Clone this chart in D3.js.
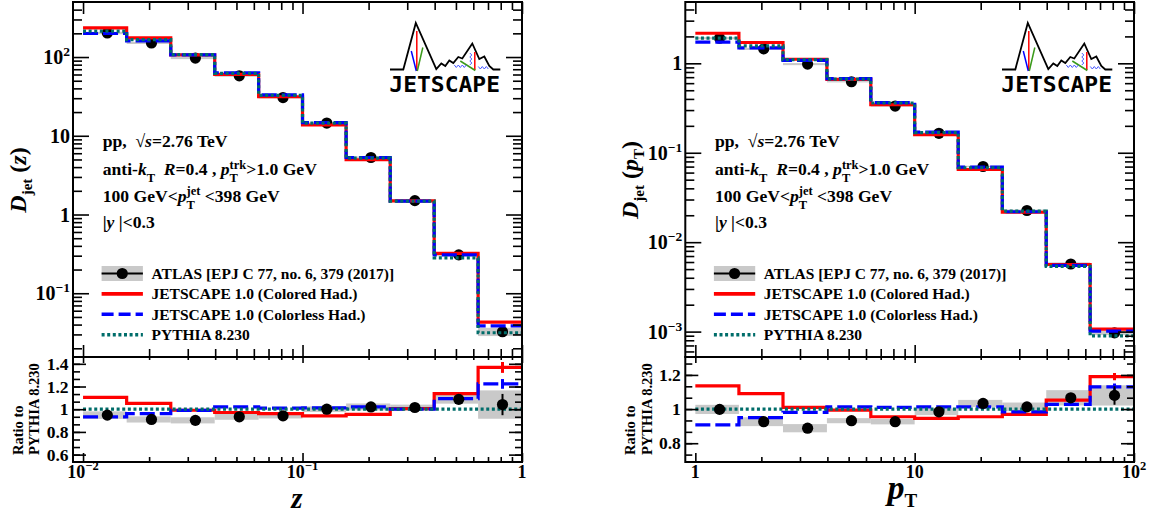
<!DOCTYPE html>
<html><head><meta charset="utf-8">
<script src="https://cdn.jsdelivr.net/npm/d3@7/dist/d3.min.js"></script>
<style>html,body{margin:0;padding:0;background:#fff;}svg{display:block;}</style>
</head><body>
<svg id="chart" width="1156" height="513"></svg>
<script>
// ---------------- DATA: left panel, D(z) ----------------
const zEdges = [0.01, 0.0158, 0.0251, 0.0398, 0.0631, 0.1, 0.158, 0.251, 0.398, 0.631, 1.0];
const zCenters = [0.0129, 0.0205, 0.0325, 0.0515, 0.0815, 0.129, 0.205, 0.325, 0.515, 0.815];
const zAtlas = [202, 151, 97, 57.8, 30.6, 14.5, 5.3, 1.50, 0.307, 0.0325];
const zAtlasSys = [0.035, 0.03, 0.03, 0.028, 0.025, 0.025, 0.03, 0.025, 0.035, 0.12];
const zAtlasStat = [0, 0, 0, 0, 0, 0, 0, 0.005, 0.015, 0.09];
const zColored = [235, 175, 106.5, 60.2, 31.3, 13.7, 4.96, 1.49, 0.321, 0.0431];
const zColorless = [199, 160, 106.4, 63.2, 33.1, 14.7, 5.3, 1.48, 0.308, 0.0385];
const zPythia = [213, 166, 107.5, 62, 32.5, 14.5, 5.2, 1.48, 0.282, 0.0315];
const zRatioAtlas = [0.948, 0.910, 0.902, 0.933, 0.942, 1.0, 1.02, 1.015, 1.087, 1.041];
const zRatioColored = [1.104, 1.052, 0.991, 0.971, 0.962, 0.942, 0.954, 1.006, 1.137, 1.368];
const zRatioColorless = [0.933, 0.962, 0.99, 1.02, 1.01, 1.011, 1.02, 1.0, 1.093, 1.223];
const zRatioPythia = [1, 1, 1, 1, 1, 1, 1, 1, 1, 1];
const zStatColored = [0, 0, 0, 0, 0, 0, 0, 0, 0.005, 0.035];
const zStatColorless = [0, 0, 0, 0, 0, 0, 0, 0, 0.005, 0.035];
const zYTicks = [0.1, 1, 10, 100];
const zYTickLabels = [['10', '\u22121'], ['1', ''], ['10', ''], ['10', '2']];
const zXTicks = [0.01, 0.1, 1];
const zXTickLabels = [['10', '\u22122'], ['10', '\u22121'], ['1', '']];
const zRTicks = [0.6, 0.8, 1, 1.2, 1.4];
const zRTickLabels = ['0.6', '0.8', '1', '1.2', '1.4'];

// ---------------- DATA: right panel, D(pT) ----------------
const ptEdges = [1, 1.58, 2.51, 3.98, 6.31, 10, 15.8, 25.1, 39.8, 63.1, 100];
const ptCenters = [1.29, 2.05, 3.25, 5.15, 8.15, 12.9, 20.5, 32.5, 51.5, 81.5];
const ptAtlas = [1.91, 1.45, 0.98, 0.622, 0.333, 0.165, 0.0702, 0.0226, 0.0057, 0.000967];
const ptAtlasSys = [0.027, 0.028, 0.027, 0.016, 0.017, 0.02, 0.02, 0.025, 0.042, 0.055];
const ptAtlasStat = [0, 0, 0, 0, 0, 0, 0, 0.004, 0.01, 0.05];
const ptColored = [2.17, 1.71, 1.11, 0.663, 0.344, 0.159, 0.065, 0.0216, 0.00563, 0.001065];
const ptColorless = [1.73, 1.49, 1.08, 0.676, 0.364, 0.170, 0.0689, 0.0219, 0.0055, 0.00101];
const ptPythia = [1.91, 1.57, 1.10, 0.667, 0.36, 0.168, 0.068, 0.0223, 0.00535, 0.000895];
const ptRatioAtlas = [0.998, 0.926, 0.888, 0.932, 0.926, 0.984, 1.033, 1.013, 1.066, 1.08];
const ptRatioColored = [1.136, 1.091, 1.01, 0.994, 0.955, 0.946, 0.955, 0.969, 1.052, 1.19];
const ptRatioColorless = [0.907, 0.95, 0.981, 1.013, 1.01, 1.013, 1.013, 0.984, 1.027, 1.13];
const ptRatioPythia = [1, 1, 1, 1, 1, 1, 1, 1, 1, 1];
const ptStatColored = [0, 0, 0, 0, 0, 0, 0, 0, 0.004, 0.018];
const ptStatColorless = [0, 0, 0, 0, 0, 0, 0, 0, 0.004, 0.018];
const ptYTicks = [0.001, 0.01, 0.1, 1];
const ptYTickLabels = [['10', '\u22123'], ['10', '\u22122'], ['10', '\u22121'], ['1', '']];
const ptXTicks = [1, 10, 100];
const ptXTickLabels = [['1', ''], ['10', ''], ['10', '2']];
const ptRTicks = [0.8, 1, 1.2];
const ptRTickLabels = ['0.8', '1', '1.2'];

const legendLabels = ['ATLAS [EPJ C 77, no. 6, 379 (2017)]', 'JETSCAPE 1.0 (Colored Had.)',
  'JETSCAPE 1.0 (Colorless Had.)', 'PYTHIA 8.230'];

// ---------------- STYLE ----------------
const FONT = "'Liberation Serif','Times New Roman',Times,serif";
const RED = '#ff0000', BLUE = '#0000ff', TEAL = '#006d6a', GRAY = '#c9c9c9';
const LW = 3.2;
const DASH = '15,5', DOT = '3,2.6';

const svg = d3.select('#chart');
svg.append('rect').attr('width', 1156).attr('height', 513).attr('fill', '#fff');
const defs = svg.append('defs');

function rich(parent, segs) {
  const g = parent.append('g');
  let cx = 0;
  const put = (s, x0) => {
    const t = g.append('text').attr('x', x0).attr('y', s.dy || 0)
      .attr('font-family', FONT).attr('font-weight', 'bold')
      .attr('font-style', s.i ? 'italic' : 'normal')
      .attr('font-size', s.s).attr('fill', '#000')
      .style('white-space', 'pre').text(s.t);
    return t.node().getComputedTextLength();
  };
  segs.forEach(s => {
    if (s.stack) cx += Math.max(...s.stack.map(q => put(q, cx)));
    else cx += put(s, cx);
    if (s.gap) cx += s.gap;
  });
  return { g, w: cx };
}
function place(parent, segs, x, y, anchor, rot) {
  const r = rich(parent, segs);
  const dx = anchor === 'middle' ? -r.w / 2 : anchor === 'end' ? -r.w : 0;
  r.g.attr('transform', `translate(${x},${y})${rot ? ` rotate(${rot})` : ''} translate(${dx},0)`);
  return r;
}
function isPow10(t) { const l = Math.log10(t); return Math.abs(l - Math.round(l)) < 1e-6; }

function axisTicks(parent, axisFn, scale, vals, size, tx, ty) {
  parent.append('g').attr('transform', `translate(${tx},${ty})`)
    .call(axisFn(scale).tickValues(vals).tickSize(size).tickSizeOuter(0).tickFormat(''))
    .call(s => s.select('.domain').remove())
    .call(s => s.selectAll('line').attr('stroke', '#000').attr('stroke-width', 1.6));
}

function drawLogo(parent, x0) {
  const g = parent.append('g').attr('transform', `translate(${x0},0)`);
  const line = d3.line();
  const mountain = [[0.7, 69.5], [14, 69.5], [26.5, 23], [47, 69], [52, 63.5], [56, 66], [60, 60.5], [64, 63],
    [69, 57], [73, 58.5], [83, 43.5], [90, 59], [95, 56.5], [100, 66], [104, 69.5], [111, 69.5]];
  g.append('path').attr('d', line(mountain)).attr('fill', 'none').attr('stroke', '#000').attr('stroke-width', 1.8);
  g.append('path').attr('d', line([[27.5, 31], [27.5, 71]])).attr('stroke', RED).attr('stroke-width', 1.5);
  g.append('path').attr('d', line([[22, 51], [27, 71]])).attr('stroke', BLUE).attr('stroke-width', 1.5);
  g.append('path').attr('d', line([[33.5, 47.5], [28, 71]])).attr('stroke', '#3a9a1a').attr('stroke-width', 1.5);
  g.append('path').attr('d', line([[85.5, 52], [85.5, 70]])).attr('stroke', RED).attr('stroke-width', 1.5);
  g.append('path').attr('d', line([[71, 61], [86, 70.5]])).attr('stroke', '#3a9a1a').attr('stroke-width', 1.5);
  const sq1 = [[65, 65], [67, 67.5], [69, 65], [71, 67.5], [73, 65], [75, 67.5], [77, 65]];
  const sq2 = [[89, 66.5], [91, 69], [93, 66.5], [95, 69], [97, 66.5], [99, 69]];
  const sq3 = [[80.5, 53], [82.5, 55], [80.5, 57], [82.5, 59], [80.5, 61], [82.5, 63], [80.5, 65]];
  [sq1, sq2, sq3].forEach(p => g.append('path').attr('d', line(p)).attr('fill', 'none')
    .attr('stroke', '#4a5aff').attr('stroke-width', 1));
  g.append('text').attr('x', 0).attr('y', 91.5).attr('font-family', "'DejaVu Sans Mono','DejaVu Sans',monospace")
    .attr('font-weight', 'bold').attr('font-size', 20.5).attr('textLength', 110.7)
    .attr('lengthAdjust', 'spacingAndGlyphs').attr('fill', '#000').text('JETSCAPE');
}

function drawPanel(P) {
  const x = d3.scaleLog().domain(P.xDom).range([P.fl, P.fr]);
  const y = d3.scaleLog().domain(P.yDom).range([P.ym, P.yt]);
  const r = d3.scaleLinear().domain(P.rDom).range([P.yb, P.ym]);
  defs.append('clipPath').attr('id', P.id + 't').append('rect')
    .attr('x', P.fl).attr('y', P.yt).attr('width', P.fr - P.fl).attr('height', P.ym - P.yt);
  defs.append('clipPath').attr('id', P.id + 'r').append('rect')
    .attr('x', P.fl).attr('y', P.ym).attr('width', P.fr - P.fl).attr('height', P.yb - P.ym);
  const top = svg.append('g').attr('clip-path', `url(#${P.id}t)`);
  const rat = svg.append('g').attr('clip-path', `url(#${P.id}r)`);
  const n = P.atlas.length;
  const idx = d3.range(n);
  const E = P.edges;

  const bands = (g, vals, sc) => g.append('g').selectAll('rect').data(idx).join('rect')
    .attr('x', i => x(E[i])).attr('width', i => x(E[i + 1]) - x(E[i]))
    .attr('y', i => sc(vals[i] * (1 + P.sys[i])))
    .attr('height', i => sc(vals[i] * (1 - P.sys[i])) - sc(vals[i] * (1 + P.sys[i])))
    .attr('fill', GRAY);
  const step = (g, vals, sc, color, dash) => g.append('path')
    .attr('d', d3.line().x(d => x(d[0])).y(d => sc(d[1])).curve(d3.curveStepAfter)(E.map((e, i) => [e, vals[Math.min(i, n - 1)]])))
    .attr('fill', 'none').attr('stroke', color).attr('stroke-width', LW)
    .attr('stroke-dasharray', dash || null);
  const errs = (g, vals, err, sc, color, w) => g.append('g').selectAll('line').data(idx.filter(i => err[i] > 0)).join('line')
    .attr('x1', i => x(P.centers[i])).attr('x2', i => x(P.centers[i]))
    .attr('y1', i => sc(vals[i] * (1 - err[i]))).attr('y2', i => sc(vals[i] * (1 + err[i])))
    .attr('stroke', color).attr('stroke-width', w);
  const dots = (g, vals, sc) => g.append('g').selectAll('circle').data(idx).join('circle')
    .attr('cx', i => x(P.centers[i])).attr('cy', i => sc(vals[i])).attr('r', 5.6).attr('fill', '#000');

  // top panel
  bands(top, P.atlas, y);
  errs(top, P.atlas, P.atlasStat, y, '#000', 2);
  dots(top, P.atlas, y);
  step(top, P.colored, y, RED);
  step(top, P.colorless, y, BLUE, DASH);
  step(top, P.pythia, y, TEAL, DOT);

  // ratio panel
  bands(rat, P.rAtlas, r);
  step(rat, P.rColored, r, RED);
  step(rat, P.rColorless, r, BLUE, DASH);
  step(rat, P.rPythia, r, TEAL, DOT);
  errs(rat, P.rColored, P.statColored, r, RED, 3);
  errs(rat, P.rColorless, P.statColorless, r, BLUE, 3);
  errs(rat, P.rAtlas, P.atlasStat, r, '#000', 2);
  dots(rat, P.rAtlas, r);

  // ticks
  const ax = svg.append('g');
  const xt = x.ticks(30).filter(t => t > P.xDom[0] * 1.001 && t < P.xDom[1] * 0.999 || isPow10(t));
  const xMaj = xt.filter(isPow10), xMin = xt.filter(t => !isPow10(t));
  const yt = y.ticks(30).filter(t => t > P.yDom[0] && t < P.yDom[1]);
  const yMaj = yt.filter(isPow10), yMin = yt.filter(t => !isPow10(t));
  const rMin = d3.range(-12, 13).map(k => P.rTicks[0] + k * 0.2 / 3)
    .filter(v => v > P.rDom[0] && v < P.rDom[1]);
  axisTicks(ax, d3.axisRight, y, yMaj, 16, P.fl, 0);
  axisTicks(ax, d3.axisRight, y, yMin, 9, P.fl, 0);
  axisTicks(ax, d3.axisLeft, y, yMaj, 16, P.fr, 0);
  axisTicks(ax, d3.axisLeft, y, yMin, 9, P.fr, 0);
  axisTicks(ax, d3.axisBottom, x, xMaj, 12, 0, P.yt);
  axisTicks(ax, d3.axisBottom, x, xMin, 8, 0, P.yt);
  axisTicks(ax, d3.axisTop, x, xMaj, 12, 0, P.ym);
  axisTicks(ax, d3.axisTop, x, xMin, 8, 0, P.ym);
  axisTicks(ax, d3.axisRight, r, P.rTicks, 13, P.fl, 0);
  axisTicks(ax, d3.axisRight, r, rMin, 7, P.fl, 0);
  axisTicks(ax, d3.axisLeft, r, P.rTicks, 13, P.fr, 0);
  axisTicks(ax, d3.axisLeft, r, rMin, 7, P.fr, 0);
  axisTicks(ax, d3.axisBottom, x, xMaj, 6, 0, P.ym);
  axisTicks(ax, d3.axisBottom, x, xMin, 3, 0, P.ym);
  axisTicks(ax, d3.axisTop, x, xMaj, 9, 0, P.yb);
  axisTicks(ax, d3.axisTop, x, xMin, 5, 0, P.yb);

  // frames
  svg.append('rect').attr('x', P.fl).attr('y', P.yt).attr('width', P.fr - P.fl).attr('height', P.ym - P.yt)
    .attr('fill', 'none').attr('stroke', '#000').attr('stroke-width', 2);
  svg.append('rect').attr('x', P.fl).attr('y', P.ym).attr('width', P.fr - P.fl).attr('height', P.yb - P.ym)
    .attr('fill', 'none').attr('stroke', '#000').attr('stroke-width', 2);

  // tick labels
  const T = svg.append('g');
  P.yTicks.forEach((v, i) => {
    const [a, b] = P.yTickLabels[i];
    const segs = [{ t: a, s: 20 }];
    if (b) segs.push({ t: b, s: 13.5, dy: -8 });
    place(T, segs, P.fl - 3, y(v) + 7, 'end');
  });
  P.xTicks.forEach((v, i) => {
    const [a, b] = P.xTickLabels[i];
    const segs = [{ t: a, s: 18 }];
    if (b) segs.push({ t: b, s: 12.5, dy: -8 });
    place(T, segs, x(v), P.yb + 16, 'middle');
  });
  P.rTicks.forEach((v, i) => place(T, [{ t: P.rTickLabels[i], s: 17.5 }], P.fl - 4.5, r(v) + 6, 'end'));

  // axis titles
  place(T, P.yTitle, P.fl - 47.5, 180, 'middle', -90);
  place(T, [{ t: 'Ratio to', s: 14.5 }], P.fl - 50.5, P.yb - 7, 'start', -90);
  place(T, [{ t: 'PYTHIA 8.230', s: 14.5 }], P.fl - 33.7, P.yb - 7, 'start', -90);
  place(T, P.xTitle, P.xTitleX, P.xTitleY, P.xTitleAnchor);

  // annotation
  const S = 17.6, SS = 12.5;
  const ann = [
    [{ t: 'pp,  ', s: S }, { t: '\u221A', s: S }, { t: 's', i: 1, s: S }, { t: '=2.76 TeV', s: S }],
    [{ t: 'anti-', s: S }, { t: 'k', i: 1, s: S }, { t: 'T', s: SS, dy: 7 }, { t: '  ', s: S }, { t: 'R', i: 1, s: S },
     { t: '=0.4 , ', s: S }, { t: 'p', i: 1, s: S }, { stack: [{ t: 'trk', s: SS, dy: -6.5 }, { t: 'T', s: SS, dy: 7 }] },
     { t: '>1.0 GeV', s: S }],
    [{ t: '100 GeV<', s: S }, { t: 'p', i: 1, s: S }, { stack: [{ t: 'jet', s: SS, dy: -6.5 }, { t: 'T', s: SS, dy: 7 }] },
     { t: ' <398 GeV', s: S }],
    [{ t: '|', s: S }, { t: 'y', i: 1, s: S }, { t: ' |<0.3', s: S }]
  ];
  const annY = [146.7, 175, 201.7, 228.3];
  ann.forEach((segs, i) => place(T, segs, P.fl + 29.7, annY[i], 'start'));

  // legend
  const L = svg.append('g');
  const lx0 = P.fl + 28.6, lx1 = P.fl + 69.9, lxm = (lx0 + lx1) / 2;
  const rowY = i => 273.5 + i * 20.4;
  L.append('rect').attr('x', lx0).attr('y', rowY(0) - 7.5).attr('width', lx1 - lx0).attr('height', 15).attr('fill', GRAY);
  L.append('line').attr('x1', lx0).attr('x2', lx1).attr('y1', rowY(0)).attr('y2', rowY(0)).attr('stroke', '#000').attr('stroke-width', 2);
  L.append('circle').attr('cx', lxm).attr('cy', rowY(0)).attr('r', 5.6).attr('fill', '#000');
  [[RED, null], [BLUE, '12,5'], [TEAL, DOT]].forEach(([c, d], k) => {
    L.append('line').attr('x1', lx0).attr('x2', lx1).attr('y1', rowY(k + 1)).attr('y2', rowY(k + 1))
      .attr('stroke', c).attr('stroke-width', 3.6).attr('stroke-dasharray', d);
  });
  legendLabels.forEach((t, i) => place(L, [{ t, s: 15.5 }], P.fl + 78.5, rowY(i) + 5.3, 'start'));

  drawLogo(svg, P.fr - 132.7);
}

drawPanel({
  id: 'pz', fl: 73, fr: 522, yt: 2, ym: 357, yb: 462,
  xDom: [0.009, 1], yDom: [0.0155, 500], rDom: [0.535, 1.46],
  edges: zEdges, centers: zCenters, atlas: zAtlas, sys: zAtlasSys, atlasStat: zAtlasStat,
  colored: zColored, colorless: zColorless, pythia: zPythia,
  rAtlas: zRatioAtlas, rColored: zRatioColored, rColorless: zRatioColorless, rPythia: zRatioPythia,
  statColored: zStatColored, statColorless: zStatColorless,
  yTicks: zYTicks, yTickLabels: zYTickLabels, xTicks: zXTicks, xTickLabels: zXTickLabels,
  rTicks: zRTicks, rTickLabels: zRTickLabels,
  yTitle: [{ t: 'D', i: 1, s: 24 }, { t: 'jet', s: 15, dy: 6 }, { t: ' (', s: 24 }, { t: 'z', i: 1, s: 24 }, { t: ')', s: 24 }],
  xTitle: [{ t: 'z', i: 1, s: 29 }], xTitleX: 297, xTitleY: 508, xTitleAnchor: 'middle'
});
drawPanel({
  id: 'pp', fl: 685.3, fr: 1134, yt: 2, ym: 357, yb: 462,
  xDom: [0.9, 100], yDom: [5.2e-4, 4.85], rDom: [0.69, 1.305],
  edges: ptEdges, centers: ptCenters, atlas: ptAtlas, sys: ptAtlasSys, atlasStat: ptAtlasStat,
  colored: ptColored, colorless: ptColorless, pythia: ptPythia,
  rAtlas: ptRatioAtlas, rColored: ptRatioColored, rColorless: ptRatioColorless, rPythia: ptRatioPythia,
  statColored: ptStatColored, statColorless: ptStatColorless,
  yTicks: ptYTicks, yTickLabels: ptYTickLabels, xTicks: ptXTicks, xTickLabels: ptXTickLabels,
  rTicks: ptRTicks, rTickLabels: ptRTickLabels,
  yTitle: [{ t: 'D', i: 1, s: 24 }, { t: 'jet', s: 15, dy: 6 }, { t: ' (', s: 24 }, { t: 'p', i: 1, s: 24 }, { t: 'T', s: 15, dy: 6 }, { t: ')', s: 24 }],
  xTitle: [{ t: 'p', i: 1, s: 34 }, { t: 'T', s: 19, dy: 8 }], xTitleX: 887.5, xTitleY: 499, xTitleAnchor: 'start'
});
</script></body></html>
